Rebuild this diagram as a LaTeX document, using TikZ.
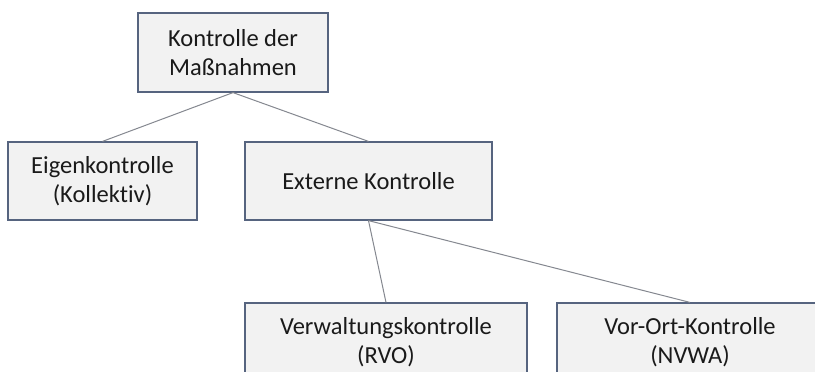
\documentclass[tikz,border=0pt]{standalone}
\usepackage{fontspec}
\setmainfont{Carlito}[Ligatures=NoCommon, RawFeature={-liga;-clig}]
\definecolor{boxfill}{HTML}{F2F2F2}
\definecolor{boxline}{HTML}{56647F}
\definecolor{conn}{HTML}{858890}
\definecolor{txt}{HTML}{1A1A1A}
\tikzset{
  box/.style={draw=boxline, line width=1.2pt, fill=boxfill, inner sep=0pt,
    align=center, text=txt, font=\fontsize{24.5}{29.5}\selectfont},
  link/.style={draw=conn, line width=1pt}
}
\begin{document}
\begin{tikzpicture}[x=1pt,y=-1pt]
\useasboundingbox (0,0) rectangle (815,372);
\clip (0,0) rectangle (815,372);
\fill[white] (0,0) rectangle (815,372);
\node[box, minimum width=190pt, minimum height=79pt] (top) at (233,52.5) {Kontrolle der\\Maßnahmen};
\node[box, minimum width=189pt, minimum height=78pt] (eigen) at (102.5,181) {Eigenkontrolle\\(Kollekt\kern0pt iv)};
\node[box, minimum width=247pt, minimum height=78pt] (ext) at (368.5,181) {Externe Kontrolle};
\node[box, minimum width=282pt, minimum height=78pt] (verw) at (386,342) {Verwaltungskontrolle\\(RVO)};
\node[box, minimum width=266pt, minimum height=78pt] (vor) at (690,342) {Vor-Ort-Kontrolle\\(NVWA)};
\draw[link] (top.south) -- (eigen.north);
\draw[link] (top.south) -- (ext.north);
\draw[link] (ext.south) -- (verw.north);
\draw[link] (ext.south) -- (vor.north);
\end{tikzpicture}
\end{document}
